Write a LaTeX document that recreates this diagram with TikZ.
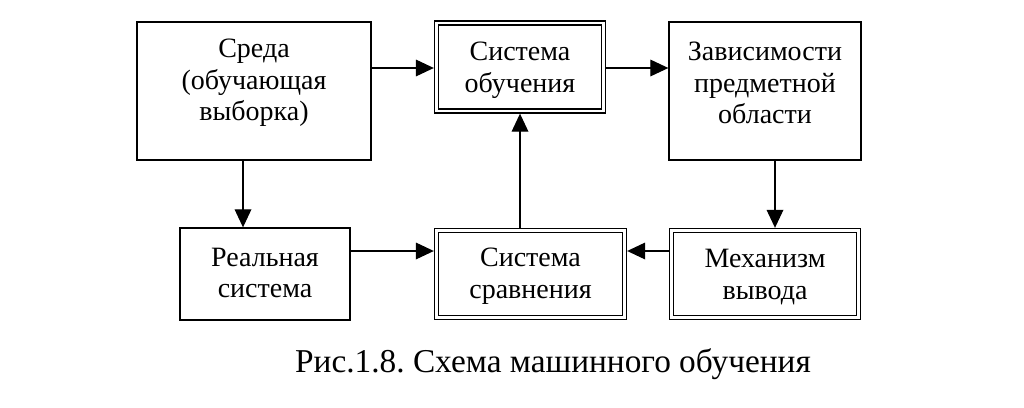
\documentclass[tikz,border=0pt]{standalone}
\usepackage{fontspec}
\setmainfont{Liberation Serif}
\usetikzlibrary{arrows.meta}
\frenchspacing
\begin{document}
\begin{tikzpicture}[x=0.75pt,y=-0.75pt,
  box/.style={draw, line width=0.95pt, rectangle, inner sep=0pt, outer sep=0.5pt},
  dbox/.style={draw, line width=1.15pt, double, double distance=1.8pt, rectangle, inner sep=0pt, outer sep=2pt},
  txt/.style={align=center, font=\fontsize{21}{23.7}\selectfont, inner sep=0pt},
  conn/.style={line width=0.95pt, -{Triangle[length=13.5pt,width=12.5pt]}}]
\useasboundingbox (0,0) rectangle (1024,407);
% boxes
\node[box, minimum width=234*0.75pt, minimum height=138*0.75pt] (sreda) at (254,91) {};
\node[txt] (sredat) at (254,83) {Среда\\(обучающая\\выборка)};
\node[dbox, minimum width=167*0.75pt, minimum height=88*0.75pt] (so) at (520,67) {};
\node[txt] (sot) at (520,70) {Система\\обучения};
\node[box, minimum width=192*0.75pt, minimum height=138*0.75pt] (zav) at (765,91) {};
\node[txt] (zavt) at (765,83) {Зависимости\\предметной\\области};
\node[box, minimum width=170*0.75pt, minimum height=92*0.75pt] (real) at (265,274) {};
\node[txt] (realt) at (265,273) {Реальная\\система};
\node[dbox, minimum width=188*0.75pt, minimum height=87*0.75pt] (ss) at (530.5,274) {};
\node[txt] (sst) at (530.5,276) {Система\\сравнения};
\node[dbox, minimum width=187*0.75pt, minimum height=87*0.75pt] (mex) at (765,274) {};
\node[txt] (mext) at (765,277) {Механизм\\вывода};
% connectors
\draw[conn] (sreda.east |- 0,68) -- (so.west |- 0,68);
\draw[conn] (so.east |- 0,68) -- (zav.west |- 0,68);
\draw[conn] (sreda.south -| 243,0) -- (real.north -| 243,0);
\draw[conn] (zav.south -| 775,0) -- (mex.north -| 775,0);
\draw[conn] (real.east |- 0,251) -- (ss.west |- 0,251);
\draw[conn] (mex.west |- 0,251) -- (ss.east |- 0,251);
\draw[conn] (ss.north -| 520,0) -- (so.south -| 520,0);
% caption
\node[font=\fontsize{25}{29}\selectfont, inner sep=0pt, anchor=base] (cap) at (553,372) {Рис.1.8. Схема машинного обучения};
\end{tikzpicture}
\end{document}
